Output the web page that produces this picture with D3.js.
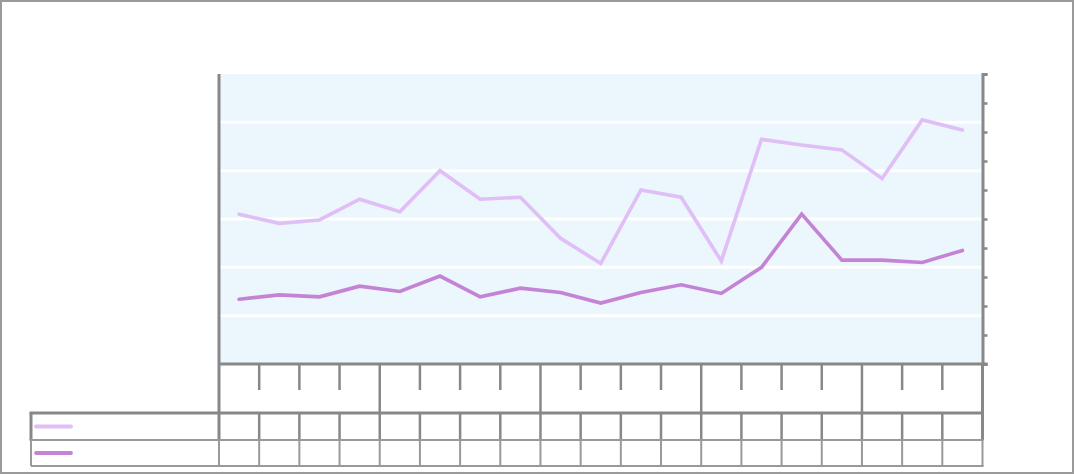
<!DOCTYPE html>
<html>
<head>
<meta charset="utf-8">
<script src="https://cdn.jsdelivr.net/npm/d3@7"></script>
<style>
  html, body { margin: 0; padding: 0; background: #fff; }
  svg { display: block; }
</style>
</head>
<body>
<svg id="chart" width="1074" height="474"></svg>
<script>
// ---- data (no visible text in the reference) ----
const categories = ["Q1","Q2","Q3","Q4","Q1","Q2","Q3","Q4","Q1","Q2","Q3","Q4","Q1","Q2","Q3","Q4","Q1","Q2","Q3"];
const groups     = ["Y1","Y1","Y1","Y1","Y2","Y2","Y2","Y2","Y3","Y3","Y3","Y3","Y4","Y4","Y4","Y4","Y5","Y5","Y5"];
const seriesA = [31.0, 29.1, 29.8, 34.1, 31.5, 40.0, 34.1, 34.5, 26.0, 20.8, 36.0, 34.5, 21.3, 46.5, 45.3, 44.3, 38.4, 50.5, 48.4];
const seriesB = [13.4, 14.3, 13.9, 16.1, 15.0, 18.2, 13.9, 15.7, 14.8, 12.6, 14.8, 16.4, 14.6, 20.0, 31.0, 21.5, 21.5, 21.0, 23.5];
const leftDomain = [0, 60];
const rightDomain = [0, 100];

// ---- layout ----
const W = 1074, H = 474;
const plotL = 219, plotR = 982.5, plotT = 74, plotB = 364;
const tickRowB = 413, row1B = 440, row2B = 466, legendL = 31;
const axisColor = "#888888", thinColor = "#999999";
const colA = "#e0bef6", colB = "#c583d6";

const svg = d3.select("#chart");

// outer border
svg.append("rect").attr("x", 1).attr("y", 1).attr("width", W - 2).attr("height", H - 2)
  .attr("fill", "#fff").attr("stroke", "#9a9a9a").attr("stroke-width", 2);

const x = d3.scaleBand().domain(d3.range(categories.length)).range([plotL, plotR]).padding(0);
const yL = d3.scaleLinear().domain(leftDomain).range([plotB, plotT]);
const yR = d3.scaleLinear().domain(rightDomain).range([plotB, plotT]);
const cx = i => x(i) + x.bandwidth() / 2;

// plot background
svg.append("rect").attr("x", plotL).attr("y", plotT).attr("width", plotR - plotL).attr("height", plotB - plotT)
  .attr("fill", "#ecf6fd");

// gridlines
svg.append("g").selectAll("line").data(yL.ticks(6).filter(t => t > leftDomain[0] && t < leftDomain[1]))
  .join("line")
  .attr("x1", plotL).attr("x2", plotR)
  .attr("y1", d => yL(d)).attr("y2", d => yL(d))
  .attr("stroke", "#ffffff").attr("stroke-width", 3);

// lines
const lineGen = d3.line().x((d, i) => cx(i)).y(d => yL(d));
svg.append("path").datum(seriesA).attr("d", lineGen)
  .attr("fill", "none").attr("stroke", colA).attr("stroke-width", 3.6)
  .attr("stroke-linejoin", "miter").attr("stroke-linecap", "round");
svg.append("path").datum(seriesB).attr("d", lineGen)
  .attr("fill", "none").attr("stroke", colB).attr("stroke-width", 3.6)
  .attr("stroke-linejoin", "miter").attr("stroke-linecap", "round");

// right axis with ticks, no labels
const rAxis = svg.append("g").attr("transform", `translate(${plotR},0)`)
  .call(d3.axisRight(yR).ticks(10).tickSize(5).tickSizeOuter(5).tickFormat(""));
rAxis.select(".domain").attr("stroke", axisColor).attr("stroke-width", 3);
rAxis.selectAll(".tick line").attr("stroke", axisColor).attr("stroke-width", 2.5);

// left axis line (plot + category area + table row 1)
svg.append("line").attr("x1", plotL).attr("x2", plotL).attr("y1", plotT).attr("y2", row1B)
  .attr("stroke", axisColor).attr("stroke-width", 3);
// right edge continuing down through the category area
svg.append("line").attr("x1", plotR).attr("x2", plotR).attr("y1", plotB).attr("y2", row1B)
  .attr("stroke", axisColor).attr("stroke-width", 3);

// x axis baseline
svg.append("line").attr("x1", plotL).attr("x2", plotR + 5).attr("y1", plotB).attr("y2", plotB)
  .attr("stroke", axisColor).attr("stroke-width", 3);

// category boundaries
const step = x.step();
const bounds = d3.range(1, categories.length).map(i => ({ i, x: plotL + i * step, major: groups[i] !== groups[i - 1] }));

svg.append("g").selectAll("line").data(bounds).join("line")
  .attr("x1", d => d.x).attr("x2", d => d.x)
  .attr("y1", plotB).attr("y2", d => d.major ? tickRowB : 390)
  .attr("stroke", axisColor).attr("stroke-width", 2.5);

// table: row 1 (thick) vertical lines
svg.append("g").selectAll("line").data(bounds).join("line")
  .attr("x1", d => d.x).attr("x2", d => d.x)
  .attr("y1", tickRowB).attr("y2", row1B)
  .attr("stroke", axisColor).attr("stroke-width", 2.5);
svg.append("line").attr("x1", legendL).attr("x2", legendL).attr("y1", tickRowB).attr("y2", row1B)
  .attr("stroke", axisColor).attr("stroke-width", 3);

// table: row 2 (thin) vertical lines
const row2x = [legendL, plotL, ...bounds.map(d => d.x), plotR];
svg.append("g").selectAll("line").data(row2x).join("line")
  .attr("x1", d => d).attr("x2", d => d)
  .attr("y1", row1B).attr("y2", row2B)
  .attr("stroke", thinColor).attr("stroke-width", 2);

// table horizontal lines
svg.append("line").attr("x1", legendL - 1.5).attr("x2", plotR + 1.5).attr("y1", tickRowB).attr("y2", tickRowB)
  .attr("stroke", axisColor).attr("stroke-width", 3);
svg.append("line").attr("x1", legendL - 1.5).attr("x2", plotR + 1).attr("y1", row1B).attr("y2", row1B)
  .attr("stroke", thinColor).attr("stroke-width", 2.2);
svg.append("line").attr("x1", legendL).attr("x2", plotR + 1).attr("y1", row2B).attr("y2", row2B)
  .attr("stroke", thinColor).attr("stroke-width", 2.2);

// legend keys
const keys = [{ c: colA, y: (tickRowB + row1B) / 2 }, { c: colB, y: (row1B + row2B) / 2 }];
svg.append("g").selectAll("line").data(keys).join("line")
  .attr("x1", 36).attr("x2", 71).attr("y1", d => d.y).attr("y2", d => d.y)
  .attr("stroke", d => d.c).attr("stroke-width", 3.8).attr("stroke-linecap", "round");
</script>
</body>
</html>
